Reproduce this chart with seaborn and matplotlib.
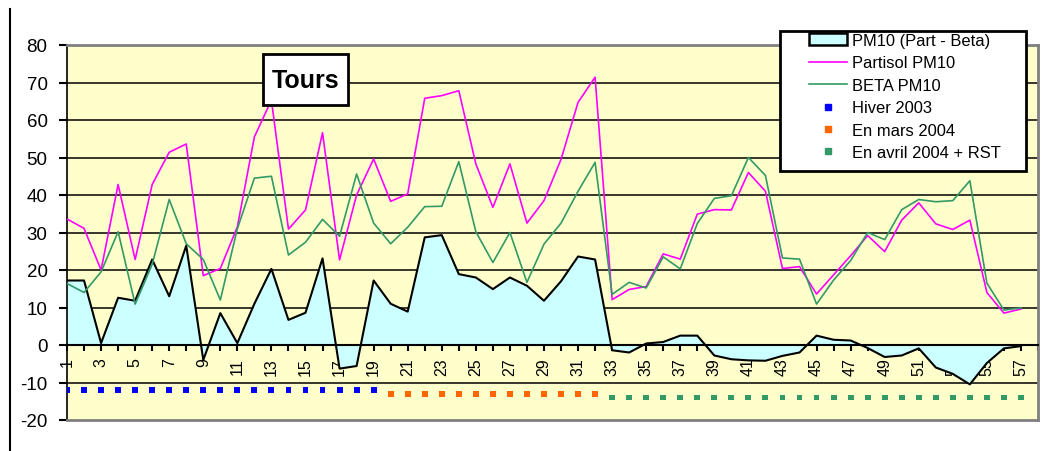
import matplotlib
matplotlib.use("Agg")
import matplotlib.pyplot as plt
import seaborn as sns
from matplotlib.patches import Rectangle, Patch
from matplotlib.lines import Line2D

# Daily PM10 measurements (µg/m3) at Tours
days = list(range(1, 58))
partisol = [33.6, 31.1, 20.0, 42.8, 22.8, 42.8, 51.4, 53.6, 18.5, 20.4,
            31.5, 55.5, 65.3, 30.9, 36.0, 56.6, 22.7, 40.0, 49.6, 38.3,
            40.3, 65.8, 66.5, 67.8, 48.3, 36.7, 48.3, 32.5, 38.5, 49.5,
            64.7, 71.4, 12.1, 14.8, 15.6, 24.3, 22.9, 34.9, 36.1, 36.0,
            46.0, 41.0, 20.4, 20.9, 13.6, 18.7, 23.8, 29.2, 24.9, 33.3,
            37.9, 32.3, 30.8, 33.3, 14.0, 8.5, 9.6]
beta = [16.4, 14.0, 19.5, 30.2, 10.9, 21.5, 38.8, 27.0, 22.8, 12.0,
        31.0, 44.5, 45.0, 24.0, 27.4, 33.5, 29.0, 45.6, 32.5, 27.0,
        31.4, 36.9, 37.0, 48.9, 30.2, 22.0, 30.0, 16.7, 26.9, 32.5,
        41.0, 48.7, 13.5, 16.7, 15.2, 23.5, 20.3, 32.4, 39.1, 39.8,
        50.0, 45.2, 23.2, 22.9, 10.9, 17.3, 22.5, 30.0, 28.1, 36.1,
        38.8, 38.2, 38.5, 43.8, 16.5, 9.3, 9.9]
ecart = [17.2, 17.2, 0.5, 12.6, 11.8, 22.8, 13.0, 26.5, -4.0, 8.5,
         0.5, 11.0, 20.3, 6.7, 8.6, 23.1, -6.3, -5.6, 17.2, 11.0,
         8.9, 28.7, 29.3, 18.9, 18.0, 14.9, 18.0, 15.8, 11.8, 17.0,
         23.6, 22.8, -1.4, -2.0, 0.4, 0.8, 2.5, 2.5, -2.8, -3.8,
         -4.1, -4.2, -2.9, -2.0, 2.5, 1.4, 1.2, -0.8, -3.2, -2.8,
         -0.9, -6.0, -7.7, -10.5, -4.8, -0.9, -0.3]

# Measurement campaigns shown as dotted rows under the axis
hiver_days = list(range(1, 20))
mars_days = list(range(20, 33))
avril_days = list(range(33, 58))
hiver_level = -12
mars_level = -13
avril_level = -14

COL_AREA = "#CCFFFF"
COL_PART = "#FF00FF"
COL_BETA = "#339966"
COL_HIVER = "#0000FF"
COL_MARS = "#FF6600"
COL_AVRIL = "#339966"

plt.rcParams["font.family"] = ["Liberation Sans", "DejaVu Sans"]
plt.rcParams["axes.unicode_minus"] = False

W, H = 1055, 452
fig = plt.figure(figsize=(W / 100, H / 100), dpi=100)
fig.patch.set_facecolor("white")


def fx(px):
    return px / W


def fy(py):
    return 1 - py / H


ax = fig.add_axes([fx(67), fy(421), (1038 - 67) / W, (421 - 46) / H])
ax.set_facecolor("#FFFFCC")

# horizontal gridlines
for v in range(-10, 80, 10):
    if v != 0:
        ax.axhline(v, color="black", lw=1.1, zorder=1)

# difference area
ax.fill_between(days, ecart, 0, color=COL_AREA, lw=0, zorder=2)
sns.lineplot(x=days, y=ecart, color="black", lw=1.5, ax=ax, zorder=3,
             legend=False)
sns.lineplot(x=days, y=partisol, color=COL_PART, lw=1.2, ax=ax, zorder=4,
             legend=False)
sns.lineplot(x=days, y=beta, color=COL_BETA, lw=1.2, ax=ax, zorder=5,
             legend=False)

msize = 18
sns.scatterplot(x=hiver_days, y=[hiver_level] * len(hiver_days), marker="s",
                s=msize, color=COL_HIVER, edgecolor="none", ax=ax, zorder=6,
                legend=False)
sns.scatterplot(x=mars_days, y=[mars_level] * len(mars_days), marker="s",
                s=msize, color=COL_MARS, edgecolor="none", ax=ax, zorder=6,
                legend=False)
sns.scatterplot(x=avril_days, y=[avril_level] * len(avril_days), marker="s",
                s=msize, color=COL_AVRIL, edgecolor="none", ax=ax, zorder=6,
                legend=False)

ax.set_xlim(1, 58)
ax.set_ylim(-20, 80)
ax.set_xlabel("")
ax.set_ylabel("")

ax.set_yticks(range(-20, 81, 10))
ax.tick_params(axis="y", direction="out", length=6, width=1.5,
               labelsize=13.5, pad=8, colors="black")

ticks = list(range(1, 59))
ax.set_xticks(ticks)
ax.set_xticklabels([str(t) if (t % 2 == 1 and t <= 57) else "" for t in ticks])
ax.tick_params(axis="x", direction="out", length=4, width=1.5, pad=5,
               labelsize=11.5, labelrotation=90)

ax.spines["bottom"].set_position(("data", 0))
ax.spines["bottom"].set_color("black")
ax.spines["bottom"].set_linewidth(1.5)
ax.spines["bottom"].set_zorder(4)
ax.spines["left"].set_color("black")
ax.spines["left"].set_linewidth(1.2)
for s in ("top", "right"):
    ax.spines[s].set_color("#808080")
    ax.spines[s].set_linewidth(2)
ax.plot([1, 58], [-20, -20], color="#808080", lw=2, clip_on=False, zorder=7)

# legend: frame drawn separately, entries placed inside it
fig.add_artist(Rectangle((fx(780), fy(172)), (1026 - 780) / W, (172 - 32) / H,
                         transform=fig.transFigure, facecolor="white",
                         edgecolor="black", lw=2, zorder=8))
handles = [
    Patch(facecolor=COL_AREA, edgecolor="black", lw=1.8, label="PM10 (Part - Beta)"),
    Line2D([], [], color=COL_PART, lw=1.2, label="Partisol PM10"),
    Line2D([], [], color=COL_BETA, lw=1.2, label="BETA PM10"),
    Line2D([], [], ls="none", marker="s", ms=5, color=COL_HIVER, label="Hiver 2003"),
    Line2D([], [], ls="none", marker="s", ms=5, color=COL_MARS, label="En mars 2004"),
    Line2D([], [], ls="none", marker="s", ms=5, color=COL_AVRIL, label="En avril 2004 + RST"),
]
leg = fig.legend(handles=handles, loc="upper left",
                 bbox_to_anchor=(fx(809), fy(34)), frameon=False,
                 fontsize=11.9, handlelength=2.3, borderpad=0,
                 labelspacing=0.45, handletextpad=0.3, borderaxespad=0)
leg.set_zorder(9)

# station title box
fig.add_artist(Rectangle((fx(263), fy(106)), 85 / W, 51 / H,
                         transform=fig.transFigure, facecolor="white",
                         edgecolor="black", lw=2, zorder=10))
fig.text(fx(305.5), fy(81), "Tours", fontsize=18, fontweight="bold",
         ha="center", va="center", zorder=11)

# chart frame
fig.add_artist(Line2D([fx(10), fx(10)], [fy(10), 0], transform=fig.transFigure,
                      color="black", lw=1.5))

fig.savefig("out.png", dpi=100)
